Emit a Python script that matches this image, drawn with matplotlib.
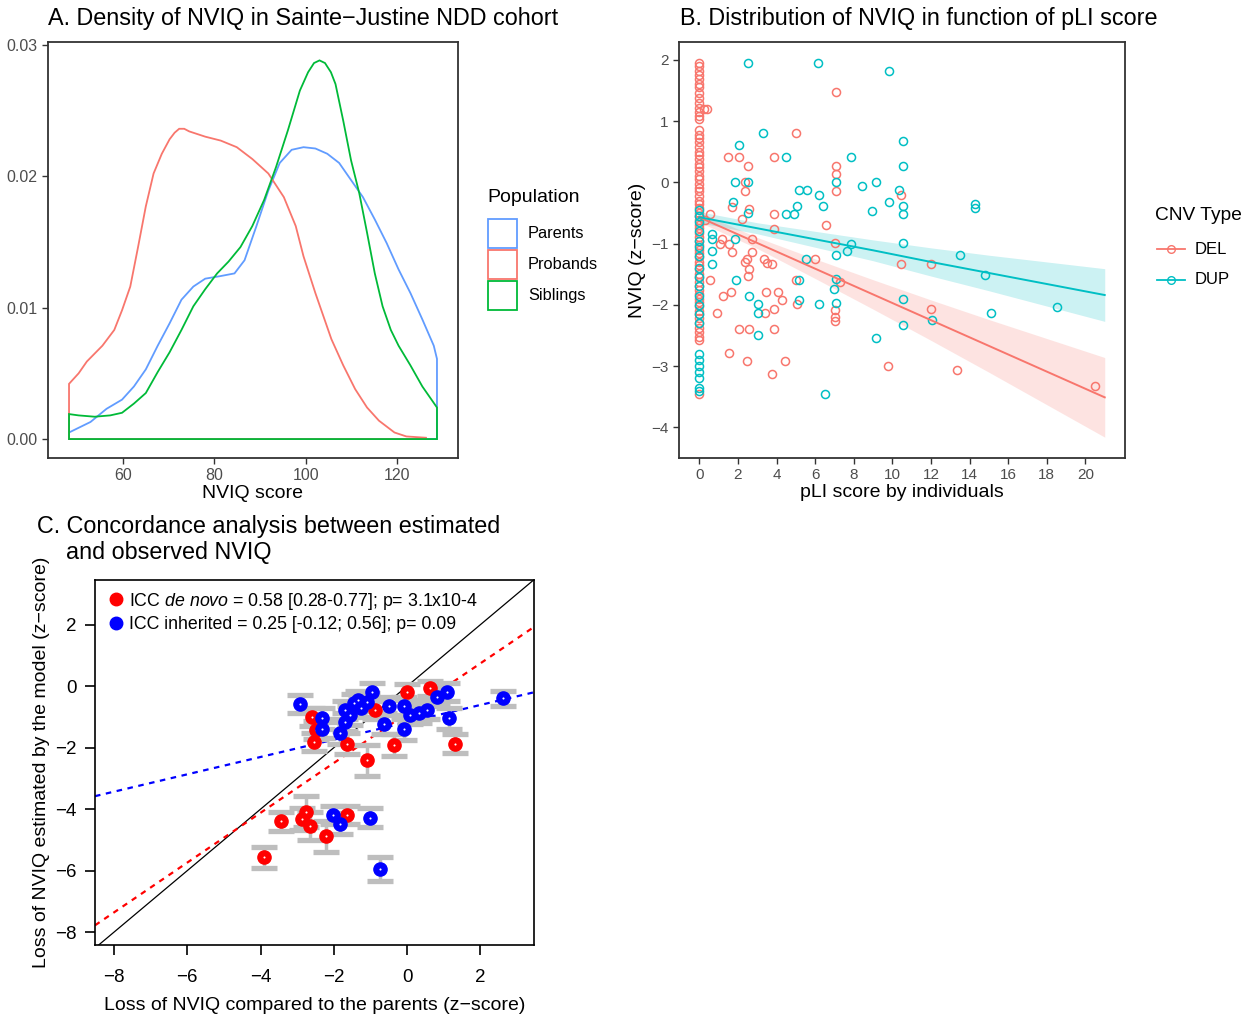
import matplotlib
matplotlib.use("Agg")
import matplotlib.pyplot as plt
from matplotlib.patches import Rectangle
from matplotlib.lines import Line2D
import numpy as np

plt.rcParams['font.family'] = ['Liberation Sans', 'DejaVu Sans']
plt.rcParams['mathtext.fontset'] = 'custom'
plt.rcParams['mathtext.it'] = 'Liberation Sans:italic'
plt.rcParams['mathtext.rm'] = 'Liberation Sans'

# ---------------- Panel A data: density of NVIQ ----------------
parents_x = [48.2, 52.9, 56.4, 59.8, 62.4, 65, 67.6, 70.2, 72.8, 75.4, 78, 81.4, 84.4, 86.6,
             89.2, 91.8, 94.3, 96.9, 99.5, 102.1, 104.7, 107.3, 109.9, 112.5, 115.1, 117.7,
             120.3, 122.9, 125.5, 128, 128.7]
parents_y = [0.0005, 0.0013, 0.0023, 0.0030, 0.0040, 0.0053, 0.0071, 0.0088, 0.0106, 0.0116,
             0.0122, 0.0124, 0.0126, 0.0136, 0.0162, 0.0189, 0.0210, 0.0220, 0.0222, 0.0221,
             0.0217, 0.0210, 0.0197, 0.0184, 0.0167, 0.0149, 0.0129, 0.0111, 0.0091, 0.0071, 0.0061]
probands_x = [48.2, 50.3, 52.1, 55.5, 58.1, 59.8, 61.6, 63.3, 65, 66.7, 68.5, 70.2, 71.3, 72.3,
              73.4, 74.5, 78, 81.4, 84.9, 88.3, 91.8, 95.2, 97.8, 99.5, 102.1, 103.9, 105.6,
              108.2, 110.8, 113.4, 116, 119.4, 122, 126.3]
probands_y = [0.0042, 0.0050, 0.0059, 0.0071, 0.0083, 0.0098, 0.0116, 0.0146, 0.0177, 0.0202,
              0.0217, 0.0228, 0.0233, 0.0236, 0.0236, 0.0234, 0.0230, 0.0227, 0.0222, 0.0213,
              0.0202, 0.0184, 0.0162, 0.0139, 0.0111, 0.0093, 0.0076, 0.0056, 0.0038, 0.0024,
              0.0014, 0.0005, 0.0002, 0.0001]
siblings_x = [48.2, 50.3, 53.8, 57.2, 59.8, 62.4, 65, 67.6, 70.2, 72.8, 75.4, 78, 80.6, 83.1,
              85.7, 88.3, 90.9, 93.5, 96.1, 98.7, 100.5, 101.8, 103, 104.2, 105.5, 106.5, 108.2,
              109.9, 111.7, 113.4, 115.1, 116.8, 118.6, 120.3, 122.9, 125.5, 128.7]
siblings_y = [0.0019, 0.0018, 0.0017, 0.0018, 0.0020, 0.0027, 0.0035, 0.0051, 0.0066, 0.0083,
              0.0101, 0.0114, 0.0126, 0.0135, 0.0146, 0.0162, 0.0182, 0.0207, 0.0235, 0.0265,
              0.0279, 0.0286, 0.0288, 0.0286, 0.0279, 0.0270, 0.0242, 0.0212, 0.0187, 0.0157,
              0.0126, 0.0101, 0.0083, 0.0071, 0.0056, 0.0040, 0.0024]
population_labels = ["Parents", "Probands", "Siblings"]
population_colors = ["#619CFF", "#F8766D", "#00BA38"]
a_xticks = [60, 80, 100, 120]
a_yticks = [0.00, 0.01, 0.02, 0.03]

# ---------------- Panel B data: NVIQ vs pLI ----------------
del_zero_y = [1.95, 1.9, 1.82, 1.75, 1.68, 1.6, 1.55, 1.45, 1.38, 1.3, 1.22, 1.15, 1.08, 1.03,
              0.85, 0.78, 0.72, 0.65, 0.58, 0.5, 0.45, 0.38, 0.3, 0.25, 0.18, 0.1, 0.05, -0.02,
              -0.1, -0.15, -0.22, -0.3, -0.35, -0.42, -0.5, -0.55, -0.62, -0.7, -0.75, -0.82,
              -0.9, -0.95, -1.02, -1.1, -1.15, -1.22, -1.3, -1.35, -1.42, -1.5, -1.55, -1.62,
              -1.7, -1.75, -1.82, -1.9, -1.95, -2.02, -2.1, -2.15, -2.22, -2.3, -2.38, -2.45,
              -2.52, -2.58, -3.45]
del_pli = [0.4, 7.08, 5.03, 1.47, 2.04, 3.85, 2.5, 7.08, 7.08, 2.38, 2.38, 7.08, 10.47, 1.7,
           2.6, 3.85, 0.53, 6.55, 3.85, 2.2, 1.05, 1.2, 1.52, 1.69, 2.73, 2.47, 2.73, 2.37, 2.56,
           2.5, 3.33, 3.5, 3.76, 0.57, 1.21, 1.64, 0.92, 3.45, 4.06, 4.28, 3.85, 3.42, 5.06, 5.03,
           5.98, 2.04, 2.59, 3.89, 1.52, 2.47, 4.42, 3.76, 7.05, 7.27, 7.05, 7.05, 7.05, 10.45,
           12.0, 12.0, 9.78, 13.35, 20.48, 0.3, 0.25]
del_nviq = [1.2, 1.47, 0.81, 0.41, 0.41, 0.41, 0.27, 0.27, 0.14, 0.0, -0.14, -0.14, -0.2, -0.41,
            -0.43, -0.51, -0.52, -0.7, -0.76, -0.6, -1.0, -0.93, -1.01, -1.14, -0.93, -1.26, -1.14,
            -1.3, -1.42, -1.53, -1.26, -1.32, -1.33, -1.6, -1.86, -1.79, -2.13, -1.79, -1.79, -1.92,
            -2.06, -2.13, -1.98, -1.6, -1.26, -2.39, -2.39, -2.39, -2.79, -2.92, -2.92, -3.13,
            -0.99, -1.63, -2.08, -2.2, -2.26, -1.33, -1.33, -2.06, -3.0, -3.06, -3.33, -0.62, 1.2]
dup_zero_y = [-0.45, -0.55, -0.65, -0.8, -0.95, -1.05, -1.2, -1.4, -1.55, -1.7, -1.85, -2.0,
              -2.15, -2.3, -2.8, -2.9, -3.0, -3.1, -3.2, -3.35, -3.4]
dup_pli = [2.5, 6.15, 9.84, 3.3, 2.04, 4.49, 7.88, 10.54, 10.54, 1.83, 2.5, 7.08, 8.43, 9.15,
           5.18, 5.58, 6.18, 10.36, 10.54, 10.54, 9.84, 8.95, 6.39, 5.06, 4.49, 4.92, 1.73, 2.5,
           0.66, 0.66, 1.83, 10.54, 7.88, 7.65, 7.08, 5.54, 0.66, 0.66, 13.49, 14.3, 14.3, 14.8,
           15.13, 18.53, 10.54, 10.54, 12.06, 9.15, 6.53, 5.15, 5.15, 6.18, 6.96, 7.08, 7.08,
           2.59, 3.02, 3.02, 3.02, 1.92]
dup_nviq = [1.94, 1.94, 1.81, 0.81, 0.61, 0.41, 0.41, 0.67, 0.27, 0.0, 0.0, 0.0, -0.06, 0.0,
            -0.13, -0.13, -0.2, -0.13, -0.39, -0.52, -0.32, -0.47, -0.39, -0.39, -0.51, -0.51,
            -0.32, -0.5, -0.85, -0.93, -0.93, -0.99, -1.0, -1.12, -1.19, -1.25, -1.12, -1.33,
            -1.19, -0.36, -0.42, -1.52, -2.13, -2.03, -1.9, -2.33, -2.25, -2.54, -3.46, -1.6,
            -1.92, -1.99, -1.74, -1.58, -1.97, -1.86, -1.99, -2.13, -2.5, -1.6]
fit_pli = [0, 3, 6, 9, 12, 15, 18, 21]
del_fit = [-0.57, -0.99, -1.41, -1.83, -2.25, -2.67, -3.09, -3.51]
del_lo = [-0.65, -1.08, -1.57, -2.07, -2.58, -3.10, -3.63, -4.16]
del_hi = [-0.49, -0.90, -1.25, -1.59, -1.92, -2.24, -2.55, -2.86]
dup_fit = [-0.57, -0.75, -0.93, -1.11, -1.30, -1.48, -1.66, -1.84]
dup_lo = [-0.66, -0.84, -1.06, -1.28, -1.53, -1.77, -2.02, -2.27]
dup_hi = [-0.48, -0.66, -0.80, -0.94, -1.07, -1.19, -1.30, -1.41]
b_xticks = [0, 2, 4, 6, 8, 10, 12, 14, 16, 18, 20]
b_yticks = [-4, -3, -2, -1, 0, 1, 2]
cnv_labels = ["DEL", "DUP"]
cnv_colors = ["#F8766D", "#00BFC4"]

# ---------------- Panel C data: concordance ----------------
denovo_obs = [-0.01, -2.6, -2.55, -1.64, -0.37, 1.31, -1.1, -0.87, 0.63, -2.5,
              -3.44, -2.76, -2.87, -2.64, -2.21, -3.92, -1.64]
denovo_est = [-0.19, -1.0, -1.81, -1.87, -1.92, -1.87, -2.41, -0.78, -0.07, -1.43,
              -4.4, -4.09, -4.32, -4.56, -4.89, -5.56, -4.2]
denovo_err = [0.25, 0.3, 0.3, 0.35, 0.35, 0.3, 0.5, 0.3, 0.25, 0.3,
              0.3, 0.5, 0.35, 0.45, 0.5, 0.34, 0.3]
inher_obs = [-2.93, -2.33, -2.33, -1.83, -1.69, -1.69, -1.46, -1.33, -1.1, -0.96, -0.64, -0.51,
             -0.1, -0.08, 0.08, 0.31, 0.54, 0.81, 1.08, 1.13, 2.62, -1.55, -1.25,
             -2.02, -1.83, -1.01, -0.75]
inher_est = [-0.59, -1.05, -1.38, -1.52, -1.16, -0.78, -0.56, -0.46, -0.51, -0.19, -1.22, -0.65,
             -0.65, -1.41, -0.94, -0.89, -0.78, -0.35, -0.19, -1.05, -0.4, -0.95, -0.7,
             -4.2, -4.47, -4.28, -5.96]
inher_err = [0.3, 0.35, 0.3, 0.35, 0.3, 0.3, 0.3, 0.3, 0.3, 0.3, 0.35, 0.3,
             0.3, 0.35, 0.3, 0.3, 0.3, 0.3, 0.3, 0.35, 0.25, 0.3, 0.3,
             0.3, 0.35, 0.3, 0.39]
denovo_fit = (-0.879, 0.81)   # intercept, slope
inher_fit = (-1.177, 0.282)
c_ticks = [-8, -6, -4, -2, 0, 2]
denovo_label = r"ICC $\it{de\ novo}$ = 0.58 [0.28-0.77]; p= 3.1x10-4"
inher_label = "ICC inherited = 0.25 [-0.12; 0.56]; p= 0.09"

# ================= Figure =================
W, H = 1254, 1017
fig = plt.figure(figsize=(W / 100, H / 100), dpi=100)

def fx(px):
    return px / W

def fy(py):
    return 1 - py / H

grey_tick = "#4D4D4D"
frame_col = "#333333"

# ---------- Panel A ----------
axA = fig.add_axes([fx(48), fy(458), fx(458 - 48), (458 - 42) / H])
series = [(parents_x, parents_y), (probands_x, probands_y), (siblings_x, siblings_y)]
for (xs, ys), col in zip(series, population_colors):
    px = [xs[0]] + list(xs) + [xs[-1]]
    py = [0] + list(ys) + [0]
    axA.fill(px, py, fill=False, edgecolor=col, linewidth=1.3, closed=True)
axA.set_xlim(43.6, 133.3)
axA.set_ylim(-0.00144, 0.0302)
axA.set_xticks(a_xticks)
axA.set_yticks(a_yticks)
axA.set_yticklabels([f"{v:.2f}" for v in a_yticks])
axA.tick_params(axis='both', colors=frame_col, labelcolor=grey_tick, labelsize=11.5,
                length=4, width=1)
for s in axA.spines.values():
    s.set_color(frame_col)
    s.set_linewidth(1.3)
axA.set_xlabel("NVIQ score", fontsize=14, labelpad=1)

fig.text(fx(48), fy(18), "A. Density of NVIQ in Sainte\u2212Justine NDD cohort",
         fontsize=16.8, ha='left', va='center')

# legend A
fig.text(fx(487), fy(198), "Population", fontsize=14, ha='left', va='center')
key_tops = [219, 250, 281]
for lab, col, top in zip(population_labels, population_colors, key_tops):
    fig.patches.append(Rectangle((fx(488), fy(top + 29)), fx(29), 29 / H, fill=False,
                                 edgecolor=col, linewidth=1.3, transform=fig.transFigure))
    fig.text(fx(528), fy(top + 14.5), lab, fontsize=11.8, ha='left', va='center')

# ---------- Panel B ----------
axB = fig.add_axes([fx(679), fy(458), fx(1125 - 679), (458 - 42) / H])
axB.fill_between(fit_pli, del_lo, del_hi, color=cnv_colors[0], alpha=0.2, linewidth=0)
axB.fill_between(fit_pli, dup_lo, dup_hi, color=cnv_colors[1], alpha=0.2, linewidth=0)
axB.plot(np.zeros(len(del_zero_y)), del_zero_y, 'o', mfc='none', mec=cnv_colors[0], ms=5.8, mew=1.1)
axB.plot(del_pli, del_nviq, 'o', mfc='none', mec=cnv_colors[0], ms=5.8, mew=1.1)
axB.plot(np.zeros(len(dup_zero_y)), dup_zero_y, 'o', mfc='none', mec=cnv_colors[1], ms=5.8, mew=1.1)
axB.plot(dup_pli, dup_nviq, 'o', mfc='none', mec=cnv_colors[1], ms=5.8, mew=1.1)
axB.plot(fit_pli, del_fit, color=cnv_colors[0], linewidth=1.4)
axB.plot(fit_pli, dup_fit, color=cnv_colors[1], linewidth=1.4)
axB.set_xlim(-1.05, 22.05)
axB.set_ylim(-4.5, 2.29)
axB.set_xticks(b_xticks)
axB.set_yticks(b_yticks)
axB.tick_params(axis='both', colors=frame_col, labelcolor=grey_tick, labelsize=11,
                length=4, width=1)
for s in axB.spines.values():
    s.set_color(frame_col)
    s.set_linewidth(1.3)
axB.set_xlabel("pLI score by individuals", fontsize=14, labelpad=1)
axB.set_ylabel("NVIQ (z\u2212score)", fontsize=14, labelpad=4)

fig.text(fx(680), fy(18), "B. Distribution of NVIQ in function of pLI score",
         fontsize=16.8, ha='left', va='center')

fig.text(fx(1155), fy(215), "CNV Type", fontsize=13.8, ha='left', va='center')
for lab, col, yy in zip(cnv_labels, cnv_colors, [249, 280]):
    fig.lines.append(Line2D([fx(1157), fx(1185)], [fy(yy), fy(yy)], color=col, linewidth=1.3,
                            transform=fig.transFigure))
    fig.lines.append(Line2D([fx(1171)], [fy(yy)], marker='o', mfc='none', mec=col, ms=5.5,
                            mew=1, transform=fig.transFigure))
    fig.text(fx(1195), fy(yy), lab, fontsize=12, ha='left', va='center')

# ---------- Panel C ----------
axC = fig.add_axes([fx(95), fy(945), fx(534 - 95), (945 - 580) / H])
axC.axline((0, 0), slope=1, color='black', linewidth=0.9)
axC.axline((0, denovo_fit[0]), slope=denovo_fit[1], color='red', linewidth=1.6,
           linestyle=(0, (2.5, 2.5)))
axC.axline((0, inher_fit[0]), slope=inher_fit[1], color='blue', linewidth=1.6,
           linestyle=(0, (2.5, 2.5)))
axC.errorbar(denovo_obs, denovo_est, yerr=denovo_err, fmt='none', ecolor='#BEBEBE',
             elinewidth=2.5, capsize=9.5, capthick=3.8, zorder=2)
axC.errorbar(inher_obs, inher_est, yerr=inher_err, fmt='none', ecolor='#BEBEBE',
             elinewidth=2.5, capsize=9.5, capthick=3.8, zorder=2)
axC.plot(denovo_obs, denovo_est, 'o', color='red', ms=9.5, mec='red', zorder=3)
axC.plot(denovo_obs, denovo_est, 'o', color='white', ms=1.5, mew=0, zorder=3.1)
axC.plot(inher_obs, inher_est, 'o', color='blue', ms=9.5, mec='blue', zorder=4)
axC.plot(inher_obs, inher_est, 'o', color='white', ms=1.5, mew=0, zorder=4.1)
axC.set_xlim(-8.52, 3.46)
axC.set_ylim(-8.42, 3.45)
axC.set_xticks(c_ticks)
axC.set_yticks(c_ticks)
axC.tick_params(axis='both', colors='black', labelsize=13.5, length=7, width=1.2)
axC.tick_params(axis='x', pad=10)
axC.tick_params(axis='y', pad=6)
for s in axC.spines.values():
    s.set_color('black')
    s.set_linewidth(1.2)
axC.set_xlabel("Loss of NVIQ compared to the parents (z\u2212score)", fontsize=14, labelpad=8)
axC.set_ylabel("Loss of NVIQ estimated by the model (z\u2212score)", fontsize=14, labelpad=4)

handles = [Line2D([], [], marker='o', color='red', linestyle='none', ms=9),
           Line2D([], [], marker='o', color='blue', linestyle='none', ms=9)]
axC.legend(handles, [denovo_label, inher_label], loc='upper left', frameon=False,
           fontsize=12.8, handletextpad=0.1, borderaxespad=0.3, labelspacing=0.25,
           handlelength=1.2, borderpad=0.3)

fig.text(fx(37), fy(527), "C. Concordance analysis between estimated", fontsize=16.8,
         ha='left', va='center')
fig.text(fx(66), fy(553), "and observed NVIQ", fontsize=16.8, ha='left', va='center')

fig.savefig("out.png", dpi=100)
